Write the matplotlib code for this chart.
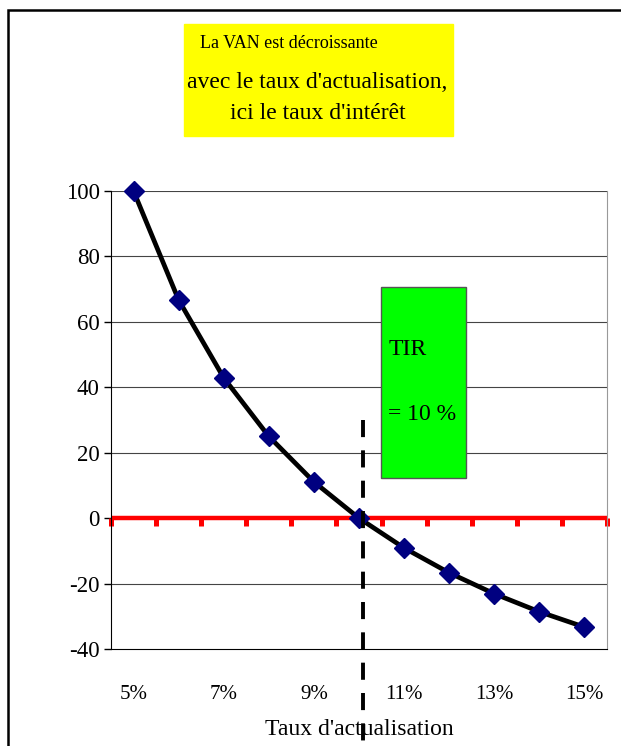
import matplotlib.pyplot as plt
from matplotlib.patches import Rectangle

plt.rcParams['font.family'] = ['Liberation Serif', 'DejaVu Serif']
plt.rcParams['axes.unicode_minus'] = False

# taux d'actualisation (categories) and VAN values
taux = ["5%", "6%", "7%", "8%", "9%", "10%", "11%", "12%", "13%", "14%", "15%"]
van = [100, 66.7, 42.9, 25.0, 11.1, 0, -9.1, -16.7, -23.1, -28.6, -33.3]
yticks = [-40, -20, 0, 20, 40, 60, 80, 100]
tir_pos = 5.08   # position of the TIR dashed marker (category index)

fig = plt.figure(figsize=(6.21, 7.46), dpi=100)
ax = fig.add_axes([0.1787, 0.130, 0.7987, 0.614])

x = list(range(len(taux)))

# grid lines
for v in yticks:
    if v != -40:
        ax.axhline(v, color="#444444", lw=0.8, zorder=1)

# red zero line with red category ticks
ax.axhline(0, color="red", lw=3.2, zorder=2)
for b in range(len(taux) + 1):
    ax.plot([b - 0.5, b - 0.5], [0, -2.4], color="red", lw=3.6, zorder=2,
            solid_capstyle="butt", clip_on=False)

# VAN curve
ax.plot(x, van, color="black", lw=3.4, zorder=4, clip_on=False)
ax.plot(x, van, linestyle="none", marker="D", markersize=10,
        color="#000080", zorder=5, clip_on=False)

# dashed TIR line, running down past the axis
ax.plot([tir_pos, tir_pos], [30, -75], color="black", lw=2.8,
        dashes=(4.4, 3.4), zorder=6, clip_on=False)

ax.set_xlim(-0.5, len(taux) - 0.5)
ax.set_ylim(-40, 100)
ax.set_yticks(yticks)
ax.set_xticks(x[::2])
ax.set_xticklabels(taux[::2])
ax.tick_params(axis="x", length=0, pad=26, labelsize=15)
ax.tick_params(axis="y", length=5, width=1, labelsize=16.5, pad=3)

ax.spines["top"].set_visible(False)
ax.spines["right"].set_color("#999999")
ax.spines["left"].set_color("black")
ax.spines["bottom"].set_color("black")
ax.set_xlabel("Taux d'actualisation", fontsize=17, labelpad=11)

# yellow note box
fig.patches.append(Rectangle((0.2963, 0.8177), 0.433, 0.150,
                             transform=fig.transFigure, color="#ffff00",
                             zorder=0))
fig.text(0.322, 0.942, "La VAN est décroissante", fontsize=13,
         va="center", ha="left")
fig.text(0.511, 0.889, "avec le taux d'actualisation,", fontsize=17,
         va="center", ha="center")
fig.text(0.511, 0.848, "ici le taux d'intérêt", fontsize=17,
         va="center", ha="center")

# green TIR box
fig.patches.append(Rectangle((0.6135, 0.3592), 0.137, 0.256,
                             transform=fig.transFigure, facecolor="#00ff00",
                             edgecolor="#555555", lw=1, zorder=10))
fig.text(0.626, 0.531, "TIR", fontsize=17, va="center", ha="left", zorder=11)
fig.text(0.624, 0.444, "= 10 %", fontsize=17, va="center", ha="left",
         zorder=11)

# outer frame (only left and top edges visible)
fig.patches.append(Rectangle((8 / 621, -0.1), 1.2, (746 - 10) / 746 + 0.1,
                             transform=fig.transFigure, fill=False,
                             edgecolor="black", lw=1.8, zorder=20))

fig.savefig("out.png", dpi=100)
